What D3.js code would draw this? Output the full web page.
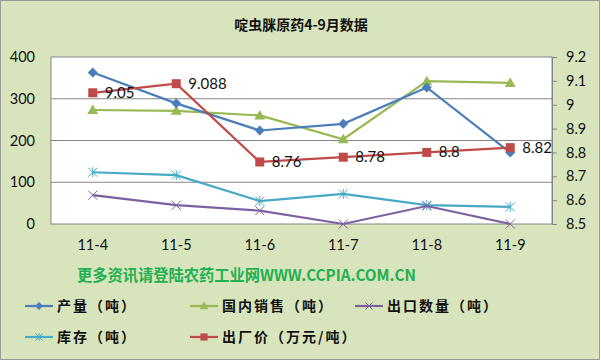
<!DOCTYPE html>
<html><head><meta charset="utf-8">
<script src="https://cdn.jsdelivr.net/npm/d3@7"></script>
<style>body{margin:0;background:#fff}svg{display:block}</style>
</head><body>
<script>
const categories = ["11-4","11-5","11-6","11-7","11-8","11-9"];
const production = [363, 289, 224, 240, 327, 171];
const domesticSales = [273, 271, 260, 203, 342, 338];
const exportQty = [69, 45, 32, 0, 43, 0];
const inventory = [124, 117, 55, 72, 45, 41];
const price = [9.05, 9.088, 8.76, 8.78, 8.8, 8.82];
const leftTicks = [0, 100, 200, 300, 400];
const rightTicks = [8.5, 8.6, 8.7, 8.8, 8.9, 9.0, 9.1, 9.2];

const W = 601, H = 361;
const m = {l: 51, r: 552, t: 57, b: 224};
const cjk = "'Noto Sans CJK SC', sans-serif";
const num = "Lato, 'Liberation Sans', sans-serif";

const svg = d3.select("body").append("svg").attr("width", W).attr("height", H);
svg.append("rect").attr("x",0.5).attr("y",0.5).attr("width",W-2).attr("height",H-2)
  .attr("fill","#d8e4bc").attr("stroke","#9a9a9a");

svg.append("text").attr("x", 301).attr("y", 30).attr("text-anchor","middle")
  .attr("font-family", cjk).attr("font-weight","bold").attr("font-size",14).attr("fill","#111")
  .text("啶虫脒原药4-9月数据");

const x = d3.scaleBand().domain(categories).range([m.l, m.r]);
const yL = d3.scaleLinear().domain([0,400]).range([m.b, m.t]);
const yR = d3.scaleLinear().domain([8.5,9.2]).range([m.b, m.t]);
const cx = d => x(d) + x.bandwidth()/2;

svg.append("rect").attr("x",m.l).attr("y",m.t).attr("width",m.r-m.l).attr("height",m.b-m.t)
  .attr("fill","#fff").attr("stroke","#868686");

// gridlines
svg.append("g").selectAll("line").data(leftTicks.filter(t=>t>0&&t<400)).join("line")
  .attr("x1",m.l).attr("x2",m.r).attr("y1",d=>yL(d)).attr("y2",d=>yL(d))
  .attr("stroke","#868686").attr("stroke-width",1);

// left axis
const gl = svg.append("g").attr("transform",`translate(${m.l},0)`)
  .call(d3.axisLeft(yL).tickValues(leftTicks).tickSize(0).tickPadding(16));
gl.select(".domain").remove();
gl.selectAll("text").attr("font-family",num).attr("font-size",14.5).attr("fill","#111");

// right axis
const gr = svg.append("g").attr("transform",`translate(${m.r},0)`)
  .call(d3.axisRight(yR).tickValues(rightTicks).tickSize(5).tickPadding(9).tickFormat(d=>d3.format("")(+d.toFixed(1))));
gr.select(".domain").attr("stroke","#868686");
gr.selectAll("line").attr("stroke","#868686");
gr.selectAll("text").attr("font-family",num).attr("font-size",14.5).attr("fill","#111");

// x axis labels
const gx = svg.append("g").attr("transform",`translate(0,${m.b})`)
  .call(d3.axisBottom(x).tickSize(0).tickPadding(16));
gx.select(".domain").remove();
gx.selectAll("text").attr("font-family",num).attr("font-size",14.5).attr("fill","#111");

const line = (ys, data) => d3.line().x((d,i)=>cx(categories[i])).y(d=>ys(d))(data);

const series = [
  {name:"产量（吨）", data:production, y:yL, color:"#4a7ebb", marker:"diamond"},
  {name:"国内销售（吨）", data:domesticSales, y:yL, color:"#98b954", marker:"triangle"},
  {name:"出口数量（吨）", data:exportQty, y:yL, color:"#7d60a0", marker:"x"},
  {name:"库存（吨）", data:inventory, y:yL, color:"#46aac5", marker:"star"},
  {name:"出厂价（万元/吨）", data:price, y:yR, color:"#be4b48", marker:"square"}
];

function drawMarker(g, type, color, px, py, s) {
  s = s || 1;
  if (type === "diamond") {
    g.append("path").attr("d",`M${px},${py-5*s}L${px+5*s},${py}L${px},${py+5*s}L${px-5*s},${py}Z`).attr("fill",color);
  } else if (type === "triangle") {
    g.append("path").attr("d",`M${px},${py-5.5*s}L${px+5.5*s},${py+4*s}L${px-5.5*s},${py+4*s}Z`).attr("fill",color);
  } else if (type === "square") {
    g.append("rect").attr("x",px-4.5*s).attr("y",py-4.5*s).attr("width",9*s).attr("height",9*s).attr("fill",color);
  } else if (type === "x") {
    g.append("path").attr("d",`M${px-4.5*s},${py-4.5*s}L${px+4.5*s},${py+4.5*s}M${px-4.5*s},${py+4.5*s}L${px+4.5*s},${py-4.5*s}`).attr("stroke",color).attr("stroke-width",1);
  } else if (type === "star") {
    g.append("path").attr("d",`M${px-4.5*s},${py-4.5*s}L${px+4.5*s},${py+4.5*s}M${px-4.5*s},${py+4.5*s}L${px+4.5*s},${py-4.5*s}M${px},${py-5*s}L${px},${py+5*s}`).attr("stroke",color).attr("stroke-width",1);
  }
}

const order = [3,2,1,0,4];
order.forEach(k => {
  const s = series[k];
  const g = svg.append("g");
  g.append("path").attr("d", line(s.y, s.data)).attr("fill","none").attr("stroke",s.color).attr("stroke-width",2.2);
  s.data.forEach((v,i)=> drawMarker(g, s.marker, s.color, cx(categories[i]), s.y(v)));
});

// price labels
svg.append("g").selectAll("text").data(price).join("text")
  .attr("x",(d,i)=>cx(categories[i])+12).attr("y",d=>yR(d)+5)
  .attr("font-family",num).attr("font-size",15).attr("fill","#111")
  .text(d=>String(d));

// watermark
svg.append("text").attr("x",77).attr("y",281)
  .attr("font-family",cjk).attr("font-weight","bold").attr("font-size",16).attr("fill","#22b050")
  .attr("textLength",339).attr("lengthAdjust","spacingAndGlyphs")
  .text("更多资讯请登陆农药工业网WWW.CCPIA.COM.CN");

// legend
const legendPos = [[25,306],[190,306],[355,306],[25,337],[190,337]];
series.forEach((s,i)=>{
  const [lx,ly] = legendPos[i];
  const g = svg.append("g");
  g.append("line").attr("x1",lx).attr("x2",lx+28).attr("y1",ly).attr("y2",ly).attr("stroke",s.color).attr("stroke-width",2.2);
  drawMarker(g, s.marker, s.color, lx+14, ly, 0.8);
  g.append("text").attr("x",lx+32).attr("y",ly+5).attr("font-family",cjk).attr("font-weight","bold")
    .attr("font-size",14).attr("fill","#111").attr("letter-spacing",2).text(s.name);
});
</script>
</body></html>
